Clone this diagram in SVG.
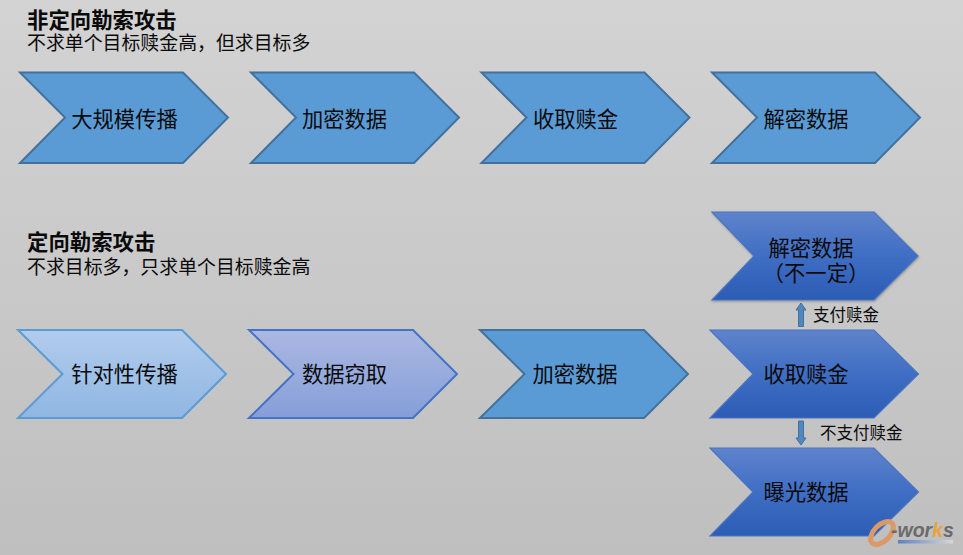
<svg xmlns="http://www.w3.org/2000/svg" width="963" height="555" viewBox="0 0 963 555">
<style>
text{font-family:"Noto Sans CJK SC",sans-serif;fill:#0a0a0a}
.t{font-size:21.300px;text-anchor:middle}
.h{font-size:21.400px;font-weight:700}
.s{font-size:18.900px}
.l{font-size:16.500px}
.flat{fill:#5b9bd5;stroke:#41719c;stroke-width:2}
.dark{fill:url(#dk);stroke:#4a74c0;stroke-width:1.2}
.arr{fill:#5088bd;stroke:#41719c;stroke-width:1}
</style>
<defs>
<linearGradient id="bg" x1="0" y1="0" x2="0" y2="1"><stop offset="0" stop-color="#d3d3d3"/><stop offset="1" stop-color="#bfbfbf"/></linearGradient>
<linearGradient id="dk" x1="0" y1="0" x2="0" y2="1"><stop offset="0" stop-color="#5f83cc"/><stop offset="0.5" stop-color="#3f6ec4"/><stop offset="1" stop-color="#2c5cb4"/></linearGradient>
<linearGradient id="lb" x1="0" y1="0" x2="0" y2="1"><stop offset="0" stop-color="#b2cced"/><stop offset="1" stop-color="#8fb6e2"/></linearGradient>
<linearGradient id="pb" x1="0" y1="0" x2="0" y2="1"><stop offset="0" stop-color="#abb8e2"/><stop offset="1" stop-color="#859ed8"/></linearGradient>
<linearGradient id="lg" x1="0" y1="0" x2="1" y2="0"><stop offset="0" stop-color="#5d80c0"/><stop offset="1" stop-color="#d8d8d8"/></linearGradient>
<filter id="sh" x="-5%" y="-5%" width="110%" height="115%"><feDropShadow dx="0.5" dy="1" stdDeviation="1" flood-color="#000" flood-opacity="0.3"/></filter>
</defs>
<rect width="963" height="555" fill="url(#bg)"/>
<g id="heading-1"><text class="h" x="27" y="28">非定向勒索攻击</text><text class="s" x="27" y="50">不求单个目标赎金高，但求目标多</text></g>
<g id="heading-2"><text class="h" x="27" y="250">定向勒索攻击</text><text class="s" x="27" y="274">不求目标多，只求单个目标赎金高</text></g>
<g id="a1"><path class="flat" d="M20 72.500H183L228 117.500L183 163H20L65 117.500Z"/><text class="t" x="124.500" y="127">大规模传播</text></g>
<g id="a2"><path class="flat" d="M251 72.500H414L459 117.500L414 163H251L296 117.500Z"/><text class="t" x="344.500" y="127">加密数据</text></g>
<g id="a3"><path class="flat" d="M481.500 72.500H644.500L689.500 117.500L644.500 163H481.500L526.500 117.500Z"/><text class="t" x="575.500" y="127">收取赎金</text></g>
<g id="a4"><path class="flat" d="M712 72.500H875L920 117.500L875 163H712L757 117.500Z"/><text class="t" x="806" y="127">解密数据</text></g>
<g id="b1"><path fill="url(#lb)" stroke="#5b9bd5" stroke-width="2" d="M18 330H182L226 374L182 418H18L62.500 374Z"/><text class="t" x="124.500" y="382">针对性传播</text></g>
<g id="b2"><path fill="url(#pb)" stroke="#4472c4" stroke-width="2" d="M249 330H413L457 374L413 418H249L293.500 374Z"/><text class="t" x="344.500" y="382">数据窃取</text></g>
<g id="b3"><path class="flat" d="M480 330H644L688 374L644 418H480L524.500 374Z"/><text class="t" x="575" y="382">加密数据</text></g>
<g id="c1" filter="url(#sh)"><path class="dark" d="M712 212H874L918 256L874 300H712L754 256Z"/></g>
<g id="c1-label"><text class="t" x="811" y="255.500">解密数据</text><text class="t" x="816" y="280.500">（不一定）</text></g>
<g id="c2"><path class="dark" d="M710 330H874L918.500 374L874 418H710L753 374Z"/><text class="t" x="806" y="382">收取赎金</text></g>
<g id="c3"><path class="dark" d="M710 448H874L918.500 492L874 536H710L753 492Z"/><text class="t" x="806" y="500">曝光数据</text></g>
<g id="connectors">
<path class="arr" d="M801 303L806 310H803.500V326.500H798.500V310H796Z"/>
<path class="arr" d="M801 445L806 438H803.500V421H798.500V438H796Z"/>
</g>
<text class="l" x="813" y="321">支付赎金</text>
<text class="l" x="820" y="439">不支付赎金</text>
<g id="logo">
<ellipse cx="882" cy="533" rx="14" ry="8" transform="rotate(-45 882 533)" fill="none" stroke="#d99a68" stroke-width="5"/>
<rect x="898" y="540" width="55" height="3.500" fill="url(#lg)"/>
<text x="891" y="537" style="font-family:'Liberation Sans',sans-serif;font-style:italic;font-weight:700;font-size:19.500px;fill:#6b6b6b">-wor<tspan style="fill:#e8a33c">k</tspan>s</text>
</g>
</svg>
